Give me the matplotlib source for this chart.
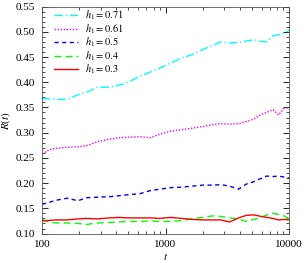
import matplotlib
matplotlib.use("Agg")
import matplotlib.pyplot as plt
from matplotlib.ticker import MultipleLocator, FixedLocator, FixedFormatter, LogLocator, NullFormatter

plt.rcParams["font.family"] = ["Liberation Serif", "DejaVu Serif"]
plt.rcParams["mathtext.fontset"] = "stix"

# time points (log spaced)
t = [100, 115, 130, 160, 195, 230, 280, 350, 420, 500, 620, 750, 900, 1100,
     1350, 1650, 2000, 2400, 2800, 3300, 3900, 4500, 5200, 5900, 6600, 7400,
     8200, 9100, 10000]

r_071 = [0.368, 0.367, 0.366, 0.366, 0.375, 0.380, 0.390, 0.390, 0.394, 0.400,
         0.412, 0.420, 0.428, 0.438, 0.448, 0.455, 0.465, 0.473, 0.480, 0.478,
         0.479, 0.482, 0.484, 0.481, 0.480, 0.492, 0.494, 0.497, 0.503]
r_061 = [0.258, 0.266, 0.269, 0.271, 0.272, 0.274, 0.282, 0.287, 0.290, 0.291,
         0.292, 0.290, 0.297, 0.303, 0.306, 0.309, 0.312, 0.316, 0.318, 0.317,
         0.318, 0.322, 0.327, 0.336, 0.340, 0.346, 0.335, 0.348, 0.350]
r_05 = [0.158, 0.162, 0.166, 0.170, 0.165, 0.171, 0.172, 0.173, 0.175, 0.177,
        0.179, 0.185, 0.188, 0.191, 0.192, 0.194, 0.196, 0.196, 0.197, 0.194,
        0.188, 0.198, 0.203, 0.209, 0.214, 0.213, 0.214, 0.212, 0.210]
r_04 = [0.128, 0.122, 0.121, 0.121, 0.120, 0.118, 0.121, 0.122, 0.123, 0.124,
        0.124, 0.125, 0.124, 0.124, 0.126, 0.129, 0.132, 0.135, 0.134, 0.131,
        0.129, 0.124, 0.128, 0.132, 0.137, 0.140, 0.138, 0.135, 0.129]
r_03 = [0.125, 0.126, 0.127, 0.127, 0.129, 0.130, 0.129, 0.131, 0.132, 0.131,
        0.131, 0.131, 0.130, 0.132, 0.130, 0.128, 0.127, 0.127, 0.127, 0.123,
        0.131, 0.136, 0.137, 0.134, 0.132, 0.130, 0.127, 0.128, 0.127]

labels = [r"$h_1 = 0.71$", r"$h_1 = 0.61$", r"$h_1 = 0.5$", r"$h_1 = 0.4$", r"$h_1 = 0.3$"]
series = [r_071, r_061, r_05, r_04, r_03]
colors = ["#00ffff", "#ff00ff", "#0000ff", "#00ff00", "#ff0000"]
styles = [(0, (6, 2, 1, 2)), (0, (1, 1.2)), (0, (3, 2.5)), (0, (5, 3)), "-"]

fig = plt.figure(figsize=(3.04, 2.63), dpi=100)
ax = fig.add_axes([0.138, 0.112, 0.813, 0.863])

for y, lab, c, ls in zip(series, labels, colors, styles):
    ax.plot(t, y, color=c, linestyle=ls, linewidth=1.0, label=lab)

ax.set_xscale("log")
ax.set_xlim(100, 10000)
ax.set_ylim(0.10, 0.55)
ax.xaxis.set_major_locator(FixedLocator([100, 1000, 10000]))
ax.xaxis.set_major_formatter(FixedFormatter(["100", "1000", "10000"]))
ax.xaxis.set_minor_locator(LogLocator(base=10, subs=range(2, 10)))
ax.xaxis.set_minor_formatter(NullFormatter())
ax.yaxis.set_major_locator(MultipleLocator(0.05))
ax.yaxis.set_minor_locator(MultipleLocator(0.01))
ax.yaxis.set_major_formatter(matplotlib.ticker.FormatStrFormatter("%.2f"))

ax.tick_params(which="both", direction="in", top=True, right=True, labelsize=8, pad=5)
ax.tick_params(which="major", length=4, width=0.6)
ax.tick_params(which="minor", length=2, width=0.5)
for s in ax.spines.values():
    s.set_linewidth(0.6)
    s.set_color("#555555")

ax.set_xlabel(r"$t$", fontsize=8, labelpad=1)
ax.set_ylabel(r"$R(t)$", fontsize=8, labelpad=2)

ax.legend(loc="upper left", bbox_to_anchor=(0.045, 0.995), frameon=False,
          fontsize=7.5, handlelength=2.3, labelspacing=0.0, borderaxespad=0,
          borderpad=0.1, handletextpad=0.7)

fig.savefig("out.png", dpi=100)
